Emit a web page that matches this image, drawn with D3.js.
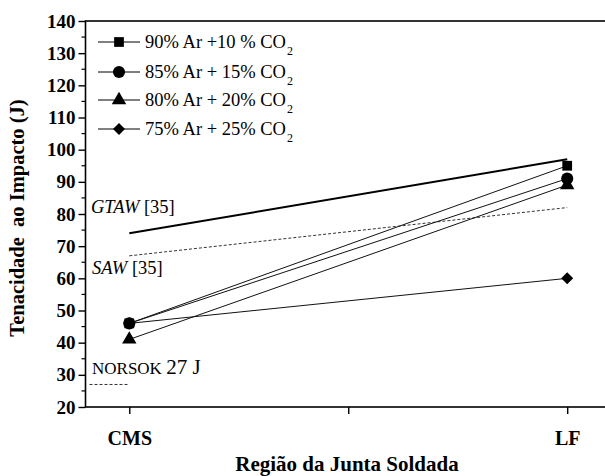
<!DOCTYPE html>
<html>
<head>
<meta charset="utf-8">
<script src="https://cdn.jsdelivr.net/npm/d3@7"></script>
<style>
  html, body { margin: 0; padding: 0; background: #fff; }
</style>
</head>
<body>
<svg id="chart" width="605" height="476"></svg>
<script>
// Regions of the welded joint (x positions on a numeric axis)
const regions = ["CMS", "LF"];
const regionPos = [1, 3];
const xTickValues = [1, 2, 3];
const xTickLabels = ["CMS", "", "LF"];

// Impact toughness (J) for each shielding gas mixture
const seriesNames = ["90% Ar +10 % CO", "85% Ar + 15% CO", "80% Ar + 20% CO", "75% Ar + 25% CO"];
const seriesSymbols = ["square", "circle", "triangle", "diamond"];
const s90 = [46, 95];
const s85 = [46, 91];
const s80 = [41, 89];
const s75 = [46, 60];
const seriesValues = [s90, s85, s80, s75];

// Reference values
const gtaw = [74, 97];
const saw = [67, 82];
const norsok = 27;

const yTicks = [20, 30, 40, 50, 60, 70, 80, 90, 100, 110, 120, 130, 140];

const FONT = "'Liberation Serif', 'Times New Roman', serif";
const svg = d3.select("#chart");
const plotLeft = 85.5, plotTop = 21, plotBottom = 407;
const x = d3.scaleLinear().domain([0.8, 3.2]).range([plotLeft, plotLeft + 525.5]);
const y = d3.scaleLinear().domain([20, 140]).range([plotBottom, plotTop]);

// Frame
svg.append("rect")
  .attr("x", plotLeft).attr("y", plotTop)
  .attr("width", x(3.2) - plotLeft).attr("height", plotBottom - plotTop)
  .attr("fill", "none").attr("stroke", "#000").attr("stroke-width", 1.6);

// Y axis (ticks outward, minor ticks every 5)
const yAxis = d3.axisLeft(y).tickValues(yTicks).tickSize(7).tickPadding(3);
const gy = svg.append("g").attr("transform", `translate(${plotLeft},0)`).call(yAxis);
gy.select(".domain").remove();
gy.selectAll(".tick line").attr("stroke-width", 1.4);
gy.selectAll(".tick text")
  .attr("font-weight", "bold").attr("font-size", 19);
const yMinor = d3.range(25, 140, 10);
svg.append("g").selectAll("line").data(yMinor).join("line")
  .attr("x1", plotLeft - 4).attr("x2", plotLeft)
  .attr("y1", d => y(d)).attr("y2", d => y(d))
  .attr("stroke", "#000").attr("stroke-width", 1.2);

// X axis
const xAxis = d3.axisBottom(x).tickValues(xTickValues)
  .tickFormat((d, i) => xTickLabels[i]).tickSize(7).tickPadding(17);
const gx = svg.append("g").attr("transform", `translate(0,${plotBottom})`).call(xAxis);
gx.select(".domain").remove();
gx.selectAll(".tick line").attr("stroke-width", 1.4);
gx.selectAll(".tick text")
  .attr("font-weight", "bold").attr("font-size", 20);

// Axis titles
svg.append("text")
  .attr("transform", `translate(24,${(plotTop + plotBottom) / 2 + 4}) rotate(-90)`)
  .attr("text-anchor", "middle")
  .attr("font-weight", "bold").attr("font-size", 20.5)
  .style("white-space", "pre")
  .text("Tenacidade  ao Impacto (J)");
svg.append("text")
  .attr("x", 347).attr("y", 471)
  .attr("text-anchor", "middle")
  .attr("font-weight", "bold").attr("font-size", 21)
  .text("Região da Junta Soldada");

// Reference lines
const line = d3.line().x((d, i) => x(regionPos[i])).y(d => y(d));
svg.append("path").datum(gtaw).attr("d", line)
  .attr("fill", "none").attr("stroke", "#000").attr("stroke-width", 2);
svg.append("path").datum(saw).attr("d", line)
  .attr("fill", "none").attr("stroke", "#333").attr("stroke-width", 1)
  .attr("stroke-dasharray", "3,2");
svg.append("line")
  .attr("x1", x(0.8) + 4).attr("x2", x(1))
  .attr("y1", y(norsok)).attr("y2", y(norsok))
  .attr("stroke", "#333").attr("stroke-width", 1).attr("stroke-dasharray", "3,2");

// Reference labels
const gl = svg.append("text").attr("x", 91).attr("y", 213).attr("font-size", 18.5);
gl.append("tspan").attr("font-style", "italic").text("GTAW");
gl.append("tspan").text(" [35]");
const sl = svg.append("text").attr("x", 92).attr("y", 274).attr("font-size", 18.5);
sl.append("tspan").attr("font-style", "italic").text("SAW");
sl.append("tspan").text(" [35]");
const nl = svg.append("text").attr("x", 92).attr("y", 374);
nl.append("tspan").attr("font-size", 17).text("NORSOK ");
nl.append("tspan").attr("font-size", 21).text("27 J");

// Marker shapes (diamond = square turned 45°)
const symbolType = {
  square: d3.symbolSquare, circle: d3.symbolCircle,
  triangle: d3.symbolTriangle, diamond: d3.symbolSquare
};
const symbolSize = { square: 95, circle: 115, triangle: 90, diamond: 72 };
function marker(g, type, cx, cy) {
  g.append("path")
    .attr("d", d3.symbol().type(symbolType[type]).size(symbolSize[type])())
    .attr("transform", `translate(${cx},${cy})${type === "diamond" ? " rotate(45)" : ""}`)
    .attr("fill", "#000");
}

// Data series
seriesValues.forEach((vals, k) => {
  svg.append("path").datum(vals).attr("d", line)
    .attr("fill", "none").attr("stroke", "#111").attr("stroke-width", 1);
});
seriesValues.forEach((vals, k) => {
  const g = svg.append("g");
  vals.forEach((v, i) => marker(g, seriesSymbols[k], x(regionPos[i]), y(v)));
});

// Legend
const legendRows = [42, 72, 100, 129];
seriesNames.forEach((name, k) => {
  const g = svg.append("g");
  const ly = legendRows[k];
  g.append("line").attr("x1", 98).attr("x2", 140).attr("y1", ly).attr("y2", ly)
    .attr("stroke", "#000").attr("stroke-width", 1);
  marker(g, seriesSymbols[k], 119, ly);
  const t = g.append("text").attr("x", 145).attr("y", ly + 6).attr("font-size", 18.5);
  t.append("tspan").text(name);
  t.append("tspan").attr("font-size", 12).attr("dy", 7).attr("dx", 1).text("2");
});

// Serif typeface throughout
svg.selectAll("text").style("font-family", FONT).attr("fill", "#000");
</script>
</body>
</html>
